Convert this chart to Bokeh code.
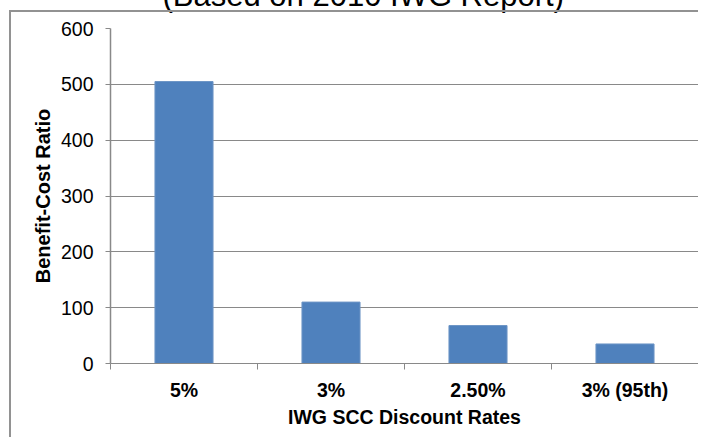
from bokeh.plotting import figure
from bokeh.models import (ColumnDataSource, FixedTicker, Range1d, InlineStyleSheet)
from bokeh.embed import file_html
from bokeh.resources import INLINE

# ---- data ----
categories = ["5%", "3%", "2.50%", "3% (95th)"]
ratios = [505, 110, 68, 35]
y_ticks = [0, 100, 200, 300, 400, 500, 600]
title_text = "(Based on 2010 IWG Report)"
x_title = "IWG SCC Discount Rates"
y_title = "Benefit-Cost Ratio"

FONT = "Liberation Sans"
GRAY = "#898989"
BLUE = "#4F81BD"

MT = -40  # top margin: the title's upper half lies above the page, as in the reference

xpos = [i + 0.5 for i in range(len(categories))]
src = ColumnDataSource(dict(x=xpos, top=ratios, cat=categories))

border_css = InlineStyleSheet(css="""
:host { position: relative; }
:host::after {
  content: ""; position: absolute; left: 1px; top: %dpx; right: 0px; bottom: 0px;
  border-left: 2px solid #929292; border-top: 2px solid #929292;
  pointer-events: none; z-index: 10;
}
""" % (10 - MT))

p = figure(width=690, height=437 - MT, output_backend="svg", toolbar_location=None,
           x_range=Range1d(0, len(categories)), y_range=Range1d(0, 600),
           min_border_left=102, min_border_right=0, min_border_top=0,
           min_border_bottom=74, margin=(MT, 0, 0, 8),
           stylesheets=[border_css])
p.outline_line_color = None
p.background_fill_color = "white"
p.border_fill_color = "white"

p.title.text = title_text
p.title.text_font = FONT
p.title.text_font_size = "31px"
p.title.text_font_style = "normal"
p.title.text_color = "black"
p.title.align = "left"
p.title.offset = 52
p.title.standoff = 31

p.vbar(x="x", top="top", width=0.395, bottom=0, source=src,
       fill_color=BLUE, line_color="#6d95c6", line_width=1)

# grid
p.xgrid.grid_line_color = None
p.ygrid.ticker = FixedTicker(ticks=y_ticks)
p.ygrid.grid_line_color = GRAY
p.ygrid.grid_line_width = 1

# x axis
xa = p.xaxis[0]
xa.ticker = FixedTicker(ticks=xpos, minor_ticks=list(range(len(categories) + 1)))
xa.major_label_overrides = {x: c for x, c in zip(xpos, categories)}
xa.major_tick_out = 0
xa.major_tick_in = 0
xa.minor_tick_out = 6
xa.minor_tick_in = 0
xa.minor_tick_line_color = GRAY
xa.axis_line_color = GRAY
xa.major_label_text_font = FONT
xa.major_label_text_font_size = "19.5px"
xa.major_label_text_font_style = "bold"
xa.major_label_text_color = "black"
xa.major_label_standoff = 9
xa.axis_label = x_title
xa.axis_label_text_font = FONT
xa.axis_label_text_font_size = "19.5px"
xa.axis_label_text_font_style = "bold"
xa.axis_label_text_color = "black"
xa.axis_label_standoff = 2

# y axis
ya = p.yaxis[0]
ya.ticker = FixedTicker(ticks=y_ticks)
ya.major_tick_out = 5
ya.major_tick_in = 0
ya.minor_tick_line_color = None
ya.major_tick_line_color = GRAY
ya.axis_line_color = GRAY
ya.axis_line_width = 1.5
ya.major_label_text_font = FONT
ya.major_label_text_font_size = "19.5px"
ya.major_label_text_color = "black"
ya.major_label_standoff = 12
ya.axis_label = y_title
ya.axis_label_text_font = FONT
ya.axis_label_text_font_size = "20px"
ya.axis_label_text_font_style = "bold"
ya.axis_label_text_color = "black"
ya.axis_label_standoff = 4

open("out.html", "w").write(file_html(p, INLINE))
